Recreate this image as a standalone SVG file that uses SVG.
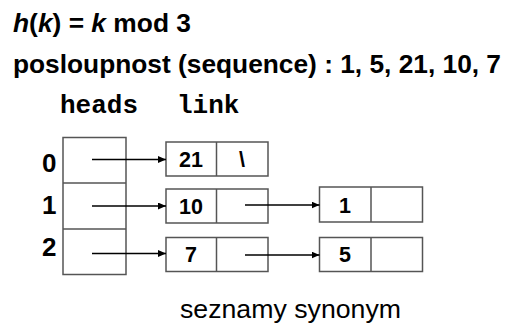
<svg xmlns="http://www.w3.org/2000/svg" width="508" height="327" viewBox="0 0 508 327">
  <style>
    .title { font-family: "Liberation Sans", Arial, sans-serif; font-weight: bold; font-size: 26px; fill: #000; }
    .mono { font-family: "Liberation Mono", "Courier New", monospace; font-weight: bold; font-size: 26px; fill: #000; }
    .idx { font-family: "Liberation Sans", Arial, sans-serif; font-weight: bold; font-size: 26px; fill: #000; }
    .val { font-family: "Liberation Sans", Arial, sans-serif; font-weight: bold; font-size: 21.5px; fill: #000; text-anchor: middle; }
    .cap { font-family: "Liberation Sans", Arial, sans-serif; font-size: 26.5px; fill: #000; }
    .box { fill: #fff; stroke: #555; stroke-width: 1.5; }
    .link { fill: none; stroke: #000; stroke-width: 1.3; marker-end: url(#arrow); }
  </style>
  <defs>
    <marker id="arrow" markerWidth="8" markerHeight="7" refX="8" refY="3.5" orient="auto" markerUnits="userSpaceOnUse">
      <path d="M0,0 L8,3.5 L0,7 Z" fill="#000"/>
    </marker>
  </defs>
  <rect width="508" height="327" fill="#fff"/>

  <!-- headings -->
  <text class="title" x="13" y="32" textLength="178" lengthAdjust="spacingAndGlyphs"><tspan font-style="italic">h</tspan>(<tspan font-style="italic">k</tspan>) = <tspan font-style="italic">k</tspan> mod 3</text>
  <text class="title" x="13" y="73" textLength="488" lengthAdjust="spacingAndGlyphs">posloupnost (sequence) : 1, 5, 21, 10, 7</text>
  <text class="mono" x="60" y="113">heads</text>
  <text class="mono" x="177" y="113">link</text>

  <!-- head table -->
  <g id="heads">
    <rect class="box" x="63" y="137.5" width="63" height="137"/>
    <line x1="63" y1="183" x2="126" y2="183" stroke="#555" stroke-width="1.5"/>
    <line x1="63" y1="229" x2="126" y2="229" stroke="#555" stroke-width="1.5"/>
    <text class="idx" x="42" y="172">0</text>
    <text class="idx" x="42" y="214">1</text>
    <text class="idx" x="42" y="256">2</text>
  </g>

  <!-- list nodes -->
  <g id="n21">
    <rect class="box" x="166" y="142" width="102" height="34"/>
    <line x1="216.5" y1="142" x2="216.5" y2="176" stroke="#555" stroke-width="1.5"/>
    <text class="val" x="191" y="166.5">21</text>
    <text class="val" x="242" y="166.5">\</text>
  </g>
  <g id="n10">
    <rect class="box" x="166" y="189" width="102" height="34"/>
    <line x1="216.5" y1="189" x2="216.5" y2="223" stroke="#555" stroke-width="1.5"/>
    <text class="val" x="191" y="213.5">10</text>
  </g>
  <g id="n7">
    <rect class="box" x="166" y="237.5" width="102" height="34"/>
    <line x1="216.5" y1="237.5" x2="216.5" y2="271.5" stroke="#555" stroke-width="1.5"/>
    <text class="val" x="191" y="262">7</text>
  </g>
  <g id="n1">
    <rect class="box" x="319.5" y="187" width="103" height="35"/>
    <line x1="371" y1="187" x2="371" y2="222" stroke="#555" stroke-width="1.5"/>
    <text class="val" x="345" y="212.5">1</text>
  </g>
  <g id="n5">
    <rect class="box" x="319.5" y="237.5" width="103" height="34"/>
    <line x1="371" y1="237.5" x2="371" y2="271.5" stroke="#555" stroke-width="1.5"/>
    <text class="val" x="345" y="262">5</text>
  </g>

  <!-- pointers -->
  <g id="connectors">
    <line class="link" x1="92" y1="159.5" x2="166" y2="159.5"/>
    <line class="link" x1="92" y1="206" x2="166" y2="206"/>
    <line class="link" x1="92" y1="253.5" x2="166" y2="253.5"/>
    <line class="link" x1="245" y1="205" x2="319.5" y2="205"/>
    <line class="link" x1="245" y1="255" x2="319.5" y2="255"/>
  </g>

  <text class="cap" x="180" y="318" textLength="221" lengthAdjust="spacingAndGlyphs">seznamy synonym</text>
</svg>
